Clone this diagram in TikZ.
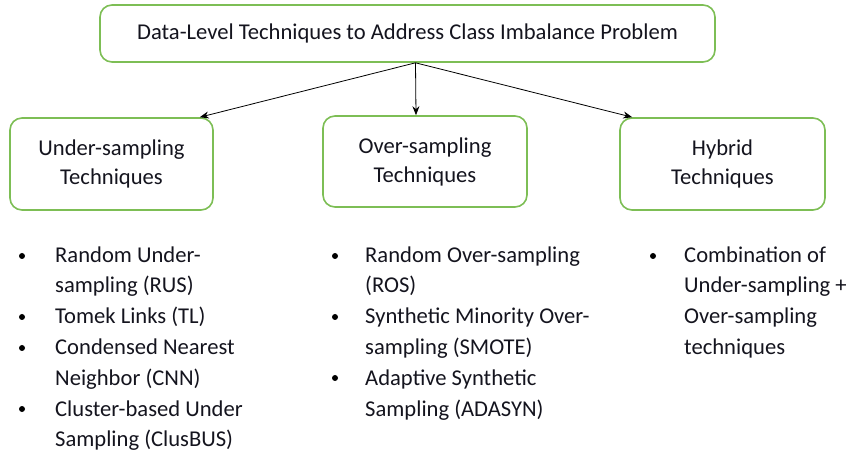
\documentclass[tikz,border=0pt]{standalone}
\usepackage{fontspec}
\setmainfont{Carlito}
\usetikzlibrary{arrows.meta}
\definecolor{boxgreen}{RGB}{125,190,85}
\definecolor{txt}{RGB}{20,20,30}
\begin{document}
\begin{tikzpicture}[x=1pt,y=-1pt,
  box/.style={draw=boxgreen, line width=1.6pt, rounded corners=12pt, fill=white,
    font=\fontsize{22.6}{29}\selectfont, align=center, text=txt, inner sep=0pt},
  itm/.style={font=\fontsize{22.6}{30}\selectfont, anchor=base west, inner sep=0pt, text=txt},
  dot/.style={circle, fill=black, inner sep=0pt, minimum size=6pt},
  arr/.style={-{Stealth[length=9pt,width=7pt]}, line width=0.8pt}]
\useasboundingbox (0,0) rectangle (849,454);
% boxes
\node[box, minimum width=615pt, minimum height=57pt] (top) at (407.5,33.5)
  {Data-Level Techniques to Address Class Imbalance Problem};
\node[box, minimum width=203pt, minimum height=92pt] (under) at (111.5,164)
  {Under-sampling\\Techniques};
\node[box, minimum width=204pt, minimum height=91pt] (over) at (425,161.5)
  {Over-sampling\\Techniques};
\node[box, minimum width=205pt, minimum height=92pt] (hyb) at (722.5,164)
  {Hybrid\\Techniques};
% arrows
\draw[arr] ([xshift=8pt]top.south) -- ([xshift=-14pt]under.north east);
\draw[arr] ([xshift=8pt]top.south) -- ([xshift=-9pt]over.north);
\draw[arr] ([xshift=8pt]top.south) -- ([xshift=13pt]hyb.north west);
% left column
\node[dot] (b1) at (22,256) {};
\node[dot] (b2) at (22,317) {};
\node[dot] (b3) at (22,348) {};
\node[dot] (b4) at (22,409) {};
\node[itm] (l1) at (55,263) {Random Under-};
\node[itm] (l2) at (55,293) {sampling (RUS)};
\node[itm] (l3) at (55,324) {Tomek Links (TL)};
\node[itm] (l4) at (55,355) {Condensed Nearest};
\node[itm] (l5) at (55,385) {Neighbor (CNN)};
\node[itm] (l6) at (55,416) {Cluster-based Under};
\node[itm] (l7) at (55,446) {Sampling (ClusBUS)};
% middle column
\node[dot] (c1) at (335,256) {};
\node[dot] (c2) at (335,317) {};
\node[dot] (c3) at (335,378) {};
\node[itm] (m1) at (365,263) {Random Over-sampling};
\node[itm] (m2) at (365,293) {(ROS)};
\node[itm] (m3) at (365,324) {Synthetic Minority Over-};
\node[itm] (m4) at (365,355) {sampling (SMOTE)};
\node[itm] (m5) at (365,385) {Adaptive Synthetic};
\node[itm] (m6) at (365,416) {Sampling (ADASYN)};
% right column
\node[dot] (d1) at (653,256) {};
\node[itm] (r1) at (684,263) {Combination of};
\node[itm] (r2) at (684,293) {Under-sampling +};
\node[itm] (r3) at (684,324) {Over-sampling};
\node[itm] (r4) at (684,355) {techniques};
\end{tikzpicture}
\end{document}
